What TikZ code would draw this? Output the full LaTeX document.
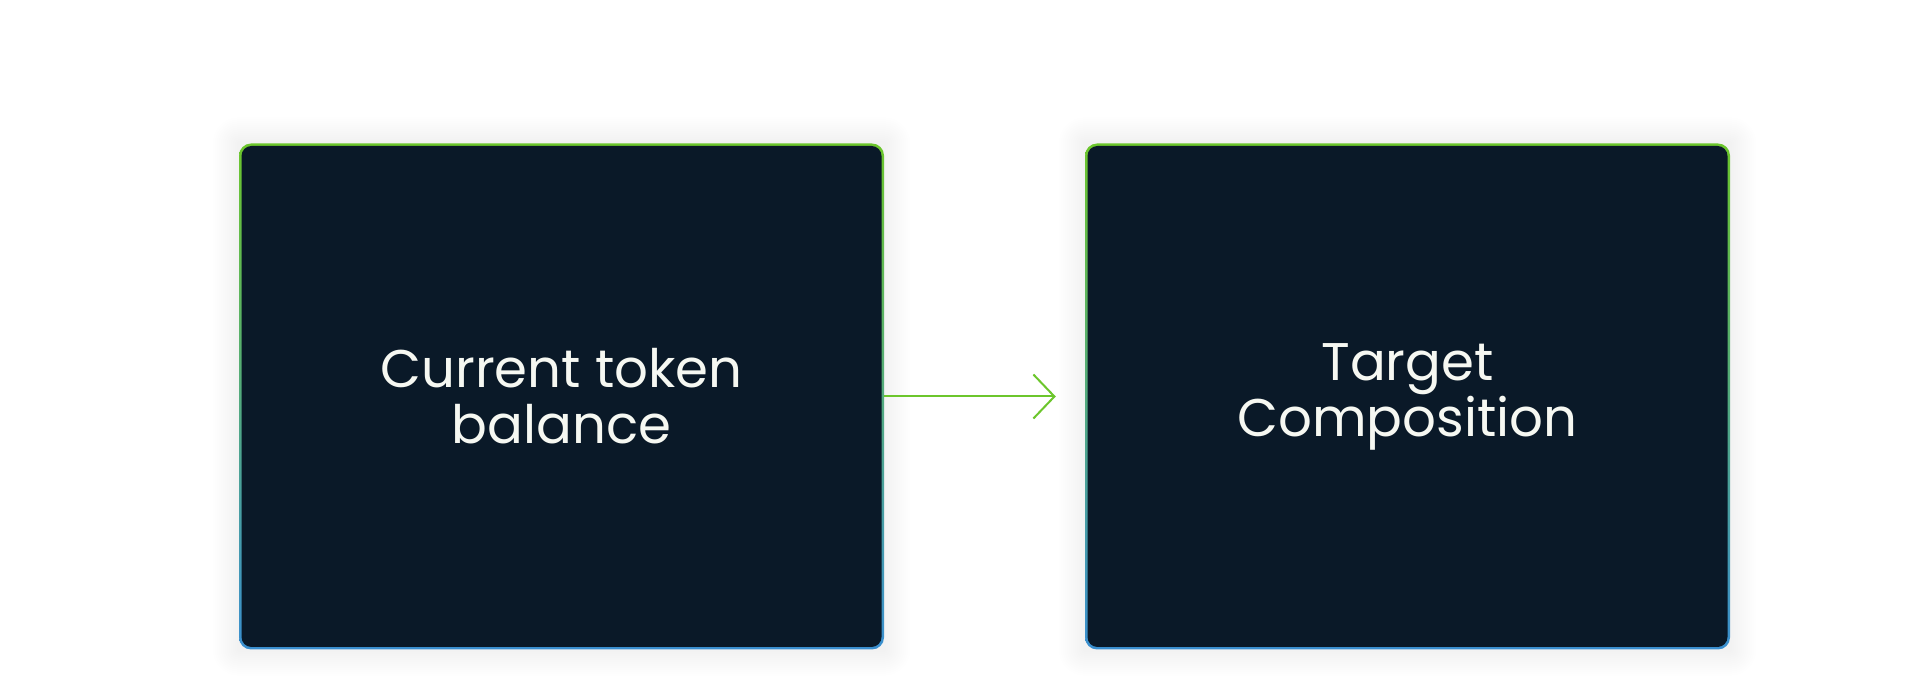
\documentclass[tikz,border=0pt]{standalone}
\usepackage{fontspec}
\setmainfont{Poppins}
\usetikzlibrary{arrows.meta,backgrounds}
\definecolor{boxfill}{HTML}{0A1928}
\definecolor{edgegreen}{HTML}{6CC62C}
\definecolor{edgeblue}{HTML}{3A8FD0}
\definecolor{textwhite}{HTML}{F6F8F2}
\tikzset{
	box/.style={rounded corners=12pt, minimum width=645pt, minimum height=506pt,
		top color=edgegreen, bottom color=edgeblue, inner sep=0pt,
		path picture={\fill[boxfill, rounded corners=10pt]
			([shift={(2.5pt,2.5pt)}]path picture bounding box.south west) rectangle
			([shift={(-2.5pt,-2.5pt)}]path picture bounding box.north east);},
		text=textwhite, align=center, font=\fontsize{53}{56}\selectfont},
	flow/.style={draw=edgegreen, line width=2pt, -{Straight Barb[length=21pt,width=44pt]}}
}
\begin{document}
\begin{tikzpicture}[x=1pt,y=1pt]
	\useasboundingbox (0,0) rectangle (1920,696);
	\node[box] (current) at (561.5,299.5) {Current token\\balance};
	\node[box] (target) at (1407.5,299.5) {Target\\Composition};
	\draw[flow, shorten >=29pt] (current.east) -- (target.west);
	% soft shadow round the boxes
	\begin{scope}[on background layer]
		\fill[white] (0,0) rectangle (1920,696);
		\foreach \n in {current,target}
			\foreach \s [evaluate=\s as \r using 12+\s] in {2,4,...,26}
				\fill[black, fill opacity=0.0035, rounded corners=\r pt]
					([shift={(-\s pt,-\s pt)}]\n.south west) rectangle ([shift={(\s pt,\s pt)}]\n.north east);
	\end{scope}
\end{tikzpicture}
\end{document}
